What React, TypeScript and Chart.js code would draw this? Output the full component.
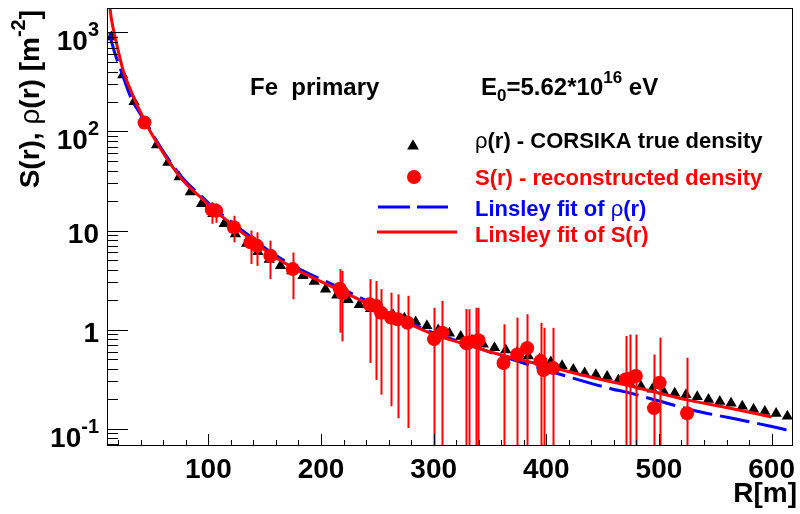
import React, { useEffect, useRef } from 'react';
import { Chart, registerables } from 'chart.js';

Chart.register(...registerables);

// ---------- data ----------
const trueR = [14, 24, 34, 44, 54, 64, 74, 84, 94, 104, 114, 124, 134, 144, 154, 164, 174, 184, 194, 204, 214, 224, 234, 244, 254, 264, 274, 284, 294, 304, 314, 324, 334, 344, 354, 364, 374, 384, 394, 404, 414, 424, 434, 444, 454, 464, 474, 484, 494, 504, 514, 524, 534, 544, 554, 564, 574, 584, 594, 604, 614];
const trueRho = [900, 372, 200, 116, 73, 48.5, 34.7, 24.5, 18.6, 14.8, 11.7, 9.2, 7.4, 6.1, 5.1, 4.4, 3.9, 3.5, 3.05, 2.55, 2.22, 2.0, 1.78, 1.62, 1.5, 1.4, 1.3, 1.19, 1.09, 0.99, 0.92, 0.85, 0.78, 0.71, 0.655, 0.62, 0.585, 0.54, 0.5, 0.47, 0.43, 0.395, 0.365, 0.35, 0.335, 0.31, 0.29, 0.267, 0.25, 0.238, 0.228, 0.219, 0.21, 0.197, 0.188, 0.18, 0.168, 0.157, 0.149, 0.142, 0.133];

const recR = [43.3, 103, 107, 122.6, 137.4, 143.2, 155, 174.9, 216.7, 219, 243.1, 248.9, 253.3, 262.1, 268, 276.8, 300.4, 307.7, 328.8, 331, 337.6, 339.8, 362, 374.2, 383, 394.9, 397.6, 405.9, 470.7, 474.2, 479.5, 495.6, 500.6, 525];
const recS = [123, 16.2, 15.8, 10.8, 7.6, 7.0, 5.56, 4.08, 2.58, 2.34, 1.8, 1.73, 1.48, 1.32, 1.27, 1.17, 0.8, 0.93, 0.73, 0.74, 0.76, 0.78, 0.46, 0.56, 0.65, 0.48, 0.39, 0.41, 0.315, 0.32, 0.34, 0.161, 0.29, 0.143];
const recLow = [115, 11.7, 12.0, 7.6, 4.6, 4.4, 3.23, 2.02, 0.93, 0.76, 0.46, 0.31, 0.22, 0.168, 0.127, 0.101, 0.01, 0.01, 0.01, 0.01, 0.01, 0.01, 0.01, 0.01, 0.01, 0.01, 0.01, 0.01, 0.01, 0.01, 0.01, 0.01, 0.01, 0.01];
const recHigh = [131, 19.3, 18.8, 14.1, 10.0, 9.6, 7.9, 6.0, 4.08, 3.92, 3.23, 3.1, 2.56, 2.36, 2.27, 2.19, 1.66, 1.95, 1.61, 1.6, 1.66, 1.66, 1.13, 1.32, 1.43, 1.17, 1.04, 1.04, 0.86, 0.89, 0.89, 0.56, 0.83, 0.52];

const fitRhoR = [12.5, 14, 22.8, 31.6, 38.9, 46.3, 56.6, 68.3, 80.1, 94.7, 104, 124, 154, 177, 218, 256, 297, 330, 356, 403, 459, 470, 500, 529, 565, 597, 615];
const fitRhoV = [1000, 811, 402, 215, 155, 113, 72, 45.5, 31, 21.8, 17.2, 11.4, 6.2, 4.3, 2.6, 1.6, 0.95, 0.71, 0.56, 0.38, 0.25, 0.235, 0.19, 0.154, 0.127, 0.107, 0.096];

const fitSR = [11, 12.6, 14, 18.4, 24.2, 31.6, 38.9, 46.3, 56.6, 68.3, 80.1, 94.7, 104, 124, 154, 177, 218, 256, 297, 330, 356, 403, 440, 480, 525, 560, 600];
const fitSV = [2400, 1766, 1350, 781, 419, 252, 164, 111, 69.8, 43.7, 29.7, 20.9, 16.5, 10.8, 5.9, 4.1, 2.45, 1.52, 0.92, 0.7, 0.57, 0.42, 0.33, 0.26, 0.195, 0.163, 0.131];

const xTicks = [100, 200, 300, 400, 500, 600];
const xTickLabels = ['100', '200', '300', '400', '500', '600'];
const yTicks = [0.1, 1, 10, 100, 1000];
const yTickBase = ['10', '1', '10', '10', '10'];
const yTickExp = ['-1', '', '', '2', '3'];

const X_MIN = 10;
const X_MAX = 619;
const Y_MIN = 0.0667;
const Y_MAX = 1766;

const legendLabels = ['ρ(r) - CORSIKA true density', 'S(r) - reconstructed density', 'Linsley fit of ρ(r)', 'Linsley fit of S(r)'];

// ---------- styles ----------
const FONT = "'Liberation Sans', Arial, Helvetica, sans-serif";
const RED = '#ff0000';
const BLUE = '#0000ff';
const BLACK = '#000000';

type Part = { t: string; k?: 'sup' | 'sub'; w?: string };

function partFont(p: Part, size: number) {
  const s = p.k ? Math.round(size * 0.7) : size;
  return `${p.w ?? 'bold'} ${s}px ${FONT}`;
}

function richWidth(ctx: CanvasRenderingContext2D, parts: Part[], size: number) {
  let w = 0;
  for (const p of parts) {
    ctx.font = partFont(p, size);
    w += ctx.measureText(p.t).width;
  }
  return w;
}

function drawRich(ctx: CanvasRenderingContext2D, parts: Part[], x: number, y: number, size: number, color: string, align: 'left' | 'right' | 'center') {
  const w = richWidth(ctx, parts, size);
  let cx = align === 'left' ? x : align === 'right' ? x - w : x - w / 2;
  ctx.fillStyle = color;
  ctx.textAlign = 'left';
  ctx.textBaseline = 'alphabetic';
  for (const p of parts) {
    ctx.font = partFont(p, size);
    const dy = p.k === 'sup' ? -size * 0.5 : p.k === 'sub' ? size * 0.25 : 0;
    ctx.fillText(p.t, cx, y + dy);
    cx += ctx.measureText(p.t).width;
  }
}

function splitRho(s: string): Part[] {
  const out: Part[] = [];
  let buf = '';
  for (const ch of s) {
    if (ch === 'ρ') {
      if (buf) out.push({ t: buf });
      buf = '';
      out.push({ t: 'ρ', w: 'normal' });
    } else buf += ch;
  }
  if (buf) out.push({ t: buf });
  return out;
}

const errorBarPlugin = {
  id: 'errbars',
  afterDatasetsDraw(chart: any) {
    const { ctx, chartArea, scales } = chart;
    ctx.save();
    ctx.beginPath();
    ctx.rect(chartArea.left, chartArea.top, chartArea.right - chartArea.left, chartArea.bottom - chartArea.top);
    ctx.clip();
    ctx.strokeStyle = RED;
    ctx.lineWidth = 2;
    recR.forEach((r, i) => {
      const px = Math.round(scales.x.getPixelForValue(r)) + 0.5;
      const yHi = scales.y.getPixelForValue(recHigh[i]);
      const yLo = Math.min(scales.y.getPixelForValue(recLow[i]), chartArea.bottom + 5);
      ctx.beginPath();
      ctx.moveTo(px, yHi);
      ctx.lineTo(px, yLo);
      ctx.stroke();
    });
    ctx.restore();
  },
};

const framePlugin = {
  id: 'rootframe',
  afterDraw(chart: any) {
    const { ctx, chartArea, scales } = chart;
    const { left, right, top, bottom } = chartArea;
    const xs = scales.x;
    const ys = scales.y;
    ctx.save();
    // frame
    ctx.strokeStyle = BLACK;
    ctx.lineWidth = 1;
    ctx.strokeRect(left + 0.5, top + 0.5, right - left - 1, bottom - top - 1);

    // x ticks
    ctx.beginPath();
    for (let v = 20; v <= X_MAX; v += 20) {
      const px = Math.round(xs.getPixelForValue(v)) + 0.5;
      const len = v % 100 === 0 ? 12 : 6;
      ctx.moveTo(px, bottom);
      ctx.lineTo(px, bottom - len);
    }
    // y ticks
    for (let e = -2; e <= 3; e++) {
      for (let d = 1; d <= 9; d++) {
        const v = d * Math.pow(10, e);
        if (v < Y_MIN || v > Y_MAX) continue;
        const py = Math.round(ys.getPixelForValue(v)) + 0.5;
        const len = d === 1 ? 21 : 11;
        ctx.moveTo(left, py);
        ctx.lineTo(left + len, py);
      }
    }
    ctx.stroke();

    // x tick labels
    xTicks.forEach((v, i) => {
      drawRich(ctx, [{ t: xTickLabels[i] }], xs.getPixelForValue(v), 478, 28, BLACK, 'center');
    });
    // y tick labels
    yTicks.forEach((v, i) => {
      const py = ys.getPixelForValue(v);
      const parts: Part[] = [{ t: yTickBase[i] }];
      if (yTickExp[i]) parts.push({ t: yTickExp[i], k: 'sup' });
      const base = yTickExp[i] ? py + 18 : py + 12.5;
      drawRich(ctx, parts, 99, base, 28, BLACK, 'right');
    });

    // axis titles
    drawRich(ctx, [{ t: 'R[m]' }], 797, 502, 28, BLACK, 'right');
    ctx.save();
    ctx.translate(39, 10);
    ctx.rotate(-Math.PI / 2);
    drawRich(ctx, [{ t: 'S(r), ' }, { t: 'ρ', w: 'normal' }, { t: '(r) [m' }, { t: '-2', k: 'sup' }, { t: ']' }], 0, 0, 28, BLACK, 'right');
    ctx.restore();

    // header texts
    drawRich(ctx, [{ t: 'Fe  primary' }], 250, 95, 24, BLACK, 'left');
    drawRich(ctx, [{ t: 'E' }, { t: '0', k: 'sub' }, { t: '=5.62*10' }, { t: '16', k: 'sup' }, { t: ' eV' }], 481, 95, 24, BLACK, 'left');

    // legend
    const tx = 475;
    // triangle
    ctx.fillStyle = BLACK;
    ctx.beginPath();
    const tr = 6.8;
    const tcx = 413, tcy = 146;
    ctx.moveTo(tcx, tcy - tr);
    ctx.lineTo(tcx + tr * Math.sin(2 * Math.PI / 3), tcy - tr * Math.cos(2 * Math.PI / 3));
    ctx.lineTo(tcx + tr * Math.sin(4 * Math.PI / 3), tcy - tr * Math.cos(4 * Math.PI / 3));
    ctx.closePath();
    ctx.fill();
    drawRich(ctx, splitRho(legendLabels[0]), tx, 148, 22, BLACK, 'left');
    // circle
    ctx.fillStyle = RED;
    ctx.beginPath();
    ctx.arc(414, 177, 7, 0, Math.PI * 2);
    ctx.fill();
    drawRich(ctx, splitRho(legendLabels[1]), tx, 185, 22, RED, 'left');
    // blue dashed
    ctx.strokeStyle = BLUE;
    ctx.lineWidth = 3;
    ctx.setLineDash([32, 7]);
    ctx.beginPath();
    ctx.moveTo(378, 207);
    ctx.lineTo(448, 207);
    ctx.stroke();
    ctx.setLineDash([]);
    drawRich(ctx, splitRho(legendLabels[2]), tx, 216, 22, BLUE, 'left');
    // red solid
    ctx.strokeStyle = RED;
    ctx.beginPath();
    ctx.moveTo(377, 232);
    ctx.lineTo(457, 232);
    ctx.stroke();
    drawRich(ctx, splitRho(legendLabels[3]), tx, 242, 22, RED, 'left');

    ctx.restore();
  },
};

export default function App() {
  const ref = useRef<HTMLCanvasElement | null>(null);
  useEffect(() => {
    if (!ref.current) return;
    const chart = new Chart(ref.current, {
      type: 'scatter',
      data: {
        datasets: [
          {
            label: 'fitS',
            data: fitSR.map((x, i) => ({ x, y: fitSV[i] })),
            showLine: true,
            borderColor: RED,
            borderWidth: 3,
            pointRadius: 0,
            cubicInterpolationMode: 'monotone',
            clip: 0,
            order: 0,
          } as any,
          {
            label: 'rec',
            data: recR.map((x, i) => ({ x, y: recS[i] })),
            pointStyle: 'circle',
            pointRadius: 7,
            backgroundColor: RED,
            borderColor: RED,
            borderWidth: 0,
            order: 1,
          },
          {
            label: 'fitRho',
            data: fitRhoR.map((x, i) => ({ x, y: fitRhoV[i] })),
            showLine: true,
            borderColor: BLUE,
            borderWidth: 3,
            borderDash: [30, 8],
            pointRadius: 0,
            cubicInterpolationMode: 'monotone',
            clip: 0,
            order: 2,
          } as any,
          {
            label: 'true',
            data: trueR.map((x, i) => ({ x, y: trueRho[i] })),
            pointStyle: 'triangle',
            pointRadius: 6.5,
            backgroundColor: BLACK,
            borderColor: BLACK,
            borderWidth: 0,
            order: 3,
          },
        ],
      },
      options: {
        responsive: false,
        animation: false,
        layout: { padding: { left: 107, top: 8, right: 2, bottom: 68 } },
        plugins: { legend: { display: false }, tooltip: { enabled: false } },
        scales: {
          x: { type: 'linear', min: X_MIN, max: X_MAX, display: false },
          y: { type: 'logarithmic', min: Y_MIN, max: Y_MAX, display: false },
        },
      },
      plugins: [errorBarPlugin, framePlugin],
    });
    return () => chart.destroy();
  }, []);
  return (
    <div style={{ position: 'fixed', left: 0, top: 0, width: 800, height: 514, background: '#fff' }}>
      <canvas ref={ref} width={800} height={514} style={{ display: 'block', width: 800, height: 514 }} />
    </div>
  );
}
